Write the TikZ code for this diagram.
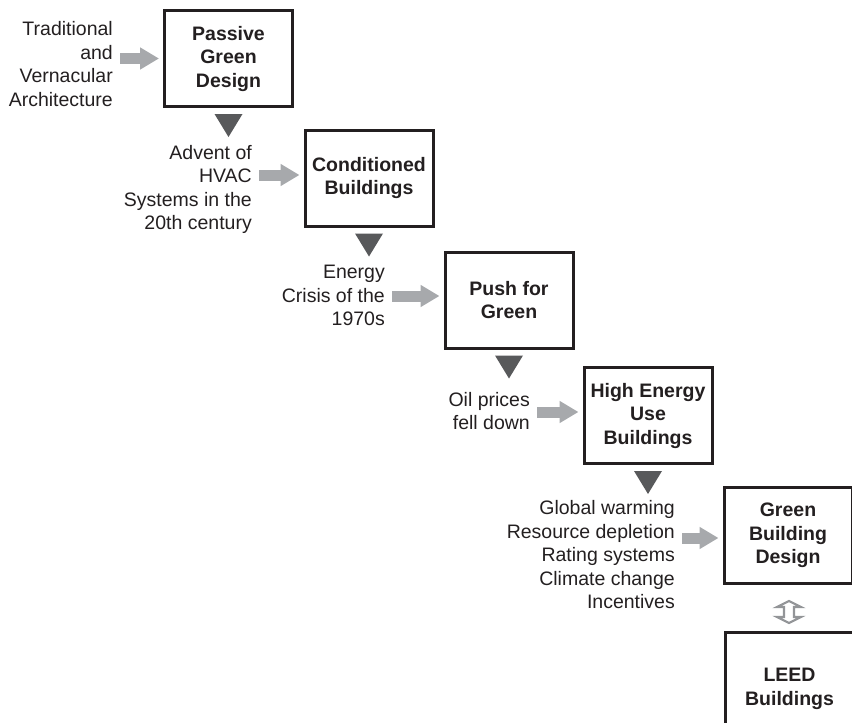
\documentclass[tikz,border=0pt]{standalone}
\usepackage{fontspec}
\setmainfont{Liberation Sans}
\usetikzlibrary{arrows.meta,calc}
\definecolor{ink}{HTML}{231F20}
\definecolor{tri}{HTML}{58595B}
\definecolor{garrow}{HTML}{A7A9AC}
\definecolor{dbl}{HTML}{939598}
\tikzset{
  stage/.style={draw=ink, line width=3pt, fill=white, minimum width=128pt,
    minimum height=96pt, inner sep=0pt, align=center, text=ink,
    font=\bfseries\fontsize{19.5}{23.5}\selectfont},
  cause/.style={anchor=east, align=right, inner sep=0pt, text=ink,
    font=\fontsize{19.5}{23.5}\selectfont},
  grayarrow/.style={draw=garrow, line width=11pt,
    -{Triangle[width=21pt,length=19pt]}, shorten <=7pt, shorten >=4pt},
  downtri/.style={fill=tri},
  dblarrow/.style={draw=dbl, line width=2.2pt, fill=white, line join=miter},
}
\begin{document}
\begin{tikzpicture}[x=1pt,y=-1pt]
\useasboundingbox (0,0) rectangle (852,723);
\clip (0,0) rectangle (852,723);

% stages
\node[stage] (b1) at (228.5,58.5) {Passive\\Green\\Design};
\node[stage] (b2) at (369,178) {Conditioned\\Buildings};
\node[stage] (b3) at (509,300) {Push for\\Green};
\node[stage] (b4) at (648,415.5) {High Energy\\Use\\Buildings};
\node[stage] (b5) at (788,535.5) {Green\\Building\\Design};
\node[stage, minimum height=113pt] (b6) at (789.5,689) {LEED\\Buildings};

% causes
\node[cause] (t1) at (113,64) {Traditional\\and\\Vernacular\\Architecture};
\node[cause] (t2) at (252,189.5) {Advent of\\HVAC\\Systems in the\\20th century};
\node[cause] (t3) at (385,295.5) {Energy\\Crisis of the\\1970s};
\node[cause] (t4) at (530,411) {Oil prices\\fell down};
\node[cause] (t5) at (675,555) {Global warming\\Resource depletion\\Rating systems\\Climate change\\Incentives};

% gray arrows
\draw[grayarrow] (b1.west -| t1.east) -- (b1.west);
\draw[grayarrow] ([yshift=3pt]b2.west -| t2.east) -- ([yshift=3pt]b2.west);
\draw[grayarrow] ([yshift=4pt]b3.west -| t3.east) -- ([yshift=4pt]b3.west);
\draw[grayarrow] ([yshift=3.5pt]b4.west -| t4.east) -- ([yshift=3.5pt]b4.west);
\draw[grayarrow] ([yshift=-2.5pt]b5.west -| t5.east) -- ([yshift=-2.5pt]b5.west);

% dark down triangles
\foreach \b in {b1,b2,b3,b4}{
  \fill[downtri] ($(\b.south)+(-14,6)$) -- ++(28,0) -- ++(-14,23) -- cycle;
}

% double arrow between green building design and LEED
\draw[dblarrow] ($(b5.south)+(1,16)$) -- ++(12,6) -- ++(-7,0) -- ++(0,10)
  -- ++(7,0) -- ++(-12,6) -- ++(-12,-6) -- ++(7,0) -- ++(0,-10) -- ++(-7,0) -- cycle;
\end{tikzpicture}
\end{document}
